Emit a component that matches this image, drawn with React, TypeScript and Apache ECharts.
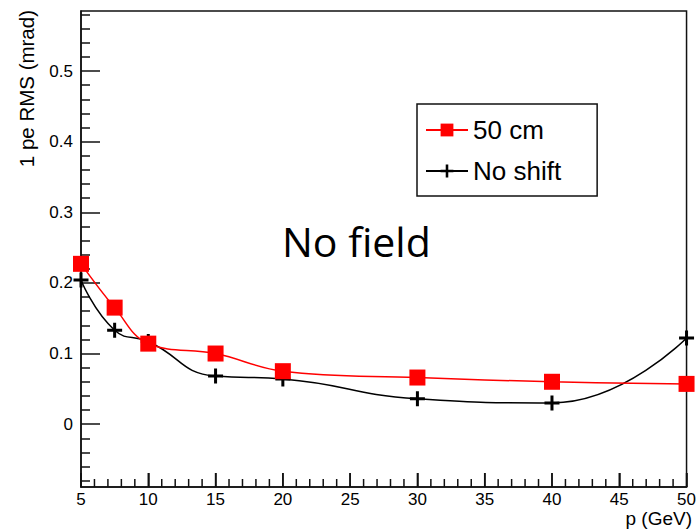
import React, { useEffect, useRef } from 'react';
import * as echarts from 'echarts';

const momenta = [5, 7.5, 10, 15, 20, 30, 40, 50];
const shift50cm = [0.227, 0.165, 0.114, 0.1, 0.075, 0.066, 0.06, 0.057];
const noShift = [0.204, 0.133, 0.117, 0.068, 0.064, 0.036, 0.03, 0.122];
const seriesNames = ['50 cm', 'No shift'];
const xMajorTicks = [5, 10, 15, 20, 25, 30, 35, 40, 45, 50];
const xMinorTicks = [
  6, 7, 8, 9, 11, 12, 13, 14, 16, 17, 18, 19, 21, 22, 23, 24, 26, 27, 28, 29, 31, 32, 33, 34,
  36, 37, 38, 39, 41, 42, 43, 44, 46, 47, 48, 49,
];
const xRange = [5, 50];
const yMajorTicks = [0, 0.1, 0.2, 0.3, 0.4, 0.5];
const yMinorTicks = [
  -0.08, -0.06, -0.04, -0.02, 0.02, 0.04, 0.06, 0.08, 0.12, 0.14, 0.16, 0.18,
  0.22, 0.24, 0.26, 0.28, 0.32, 0.34, 0.36, 0.38, 0.42, 0.44, 0.46,
  0.48, 0.52, 0.54, 0.56, 0.58,
];
const yRange = [-0.089, 0.585];
const xTitle = 'p (GeV)';
const yTitle = '1 pe RMS (mrad)';
const annotation = 'No field';

const FONT = '"Liberation Sans", Arial, Helvetica, sans-serif';
const PLUS = 'path://M0,6 H6 V0 H9 V6 H15 V9 H9 V15 H6 V9 H0 Z';
const TICK = { color: '#111', width: 1.5 };

function tickSeries(values: number[], len: number) {
  return {
    type: 'custom',
    coordinateSystem: 'cartesian2d',
    xAxisIndex: 0,
    yAxisIndex: 0,
    silent: true,
    clip: false,
    z: 100,
    zlevel: 0,
    data: values.map((v) => [v, yRange[0]]),
    renderItem: (_params: any, api: any) => {
      const p = api.coord([api.value(0), api.value(1)]);
      return {
        type: 'rect',
        z2: 100,
        shape: { x: p[0] - 0.75, y: p[1] - len, width: 1.5, height: len },
        style: { fill: '#111' },
      };
    },
  };
}

export default function App() {
  const ref = useRef<HTMLDivElement>(null);
  useEffect(() => {
    if (!ref.current) return;
    const chart = echarts.init(ref.current, null, { renderer: 'svg' });
    chart.setOption({
      animation: false,
      backgroundColor: '#fff',
      grid: {
        left: 81,
        top: 11,
        right: 5,
        bottom: 44,
        show: true,
        borderColor: '#111',
        borderWidth: 1.5,
      },
      xAxis: {
        type: 'value',
        position: 'bottom',
        z: 50,
        min: xRange[0],
        max: xRange[1],
        axisLine: { show: true, onZero: false, lineStyle: TICK },
        axisTick: { show: true, inside: true, length: 14, customValues: xMajorTicks, lineStyle: TICK },
        splitLine: { show: false },
        axisLabel: {
          customValues: xMajorTicks,
          color: '#000',
          fontFamily: FONT,
          fontSize: 17,
          margin: 4,
        },
      },
      yAxis: [
        {
          type: 'value',
          min: yRange[0],
          max: yRange[1],
          axisLine: { show: true, onZero: false, lineStyle: TICK },
          axisTick: { show: true, inside: true, length: 19, customValues: yMajorTicks, lineStyle: TICK },
          splitLine: { show: false },
          axisLabel: {
            customValues: yMajorTicks,
            color: '#000',
            fontFamily: FONT,
            fontSize: 17,
            margin: 8,
            formatter: (v: number) => (Math.abs(v) < 1e-9 ? '0' : v.toFixed(1)),
          },
        },
        {
          type: 'value',
          min: yRange[0],
          max: yRange[1],
          position: 'left',
          axisLine: { show: false, onZero: false },
          axisTick: { show: true, inside: true, length: 9, customValues: yMinorTicks, lineStyle: TICK },
          axisLabel: { show: false },
          splitLine: { show: false },
        },
      ],
      legend: {
        orient: 'vertical',
        left: 417,
        top: 104,
        data: seriesNames,
        padding: [13, 36, 12, 8],
        itemGap: 15,
        itemWidth: 42,
        itemHeight: 16,
        borderColor: '#111',
        borderWidth: 1.5,
        backgroundColor: '#fff',
        textStyle: { fontFamily: FONT, fontSize: 26, color: '#000', lineHeight: 26 },
      },
      graphic: [
        {
          type: 'text',
          x: 282,
          y: 241,
          style: {
            text: annotation,
            fontFamily: '"Open Sans", "Noto Sans", sans-serif',
            fontSize: 41,
            fill: '#000',
            align: 'left',
            verticalAlign: 'middle',
          },
        },
        {
          type: 'text',
          x: 26,
          y: 10,
          rotation: Math.PI / 2,
          style: {
            text: yTitle,
            fontFamily: FONT,
            fontSize: 20.5,
            fill: '#000',
            align: 'right',
            verticalAlign: 'middle',
          },
        },
        {
          type: 'text',
          x: 692,
          y: 518,
          style: {
            text: xTitle,
            fontFamily: FONT,
            fontSize: 19,
            fill: '#000',
            align: 'right',
            verticalAlign: 'middle',
          },
        },
      ],
      series: [
        tickSeries(xMajorTicks, 14),
        tickSeries(xMinorTicks, 8),
        {
          name: seriesNames[1],
          type: 'line',
          data: momenta.map((x, i) => [x, noShift[i]]),
          smooth: 0.5,
          symbol: PLUS,
          symbolSize: 15,
          clip: false,
          lineStyle: { color: '#000', width: 1.5 },
          itemStyle: { color: '#000' },
          z: 3,
        },
        {
          name: seriesNames[0],
          type: 'line',
          data: momenta.map((x, i) => [x, shift50cm[i]]),
          smooth: 0.4,
          symbol: 'rect',
          symbolSize: 16,
          clip: false,
          lineStyle: { color: '#ff0000', width: 1.5 },
          itemStyle: { color: '#ff0000' },
          z: 4,
        },
      ],
    });
    return () => chart.dispose();
  }, []);
  return (
    <div
      ref={ref}
      style={{ position: 'absolute', left: 0, top: 0, width: 699, height: 531 }}
    />
  );
}
